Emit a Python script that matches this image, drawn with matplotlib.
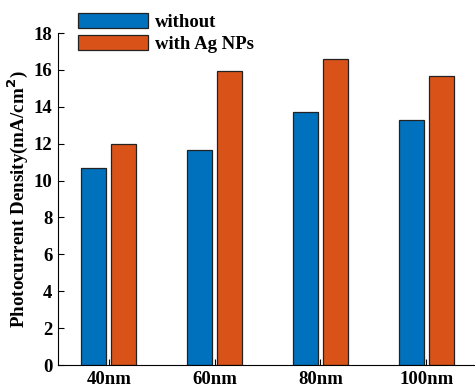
import matplotlib.pyplot as plt
import numpy as np

categories = ['40nm', '60nm', '80nm', '100nm']
without = [10.67, 11.66, 13.72, 13.27]
with_ag = [11.97, 15.96, 16.61, 15.67]
series_labels = ['without', 'with Ag NPs']

plt.rcParams['font.family'] = ['Liberation Serif', 'DejaVu Serif']
plt.rcParams['font.weight'] = 'bold'

fig = plt.figure(figsize=(4.75, 3.88), dpi=100)
ax = fig.add_axes([58 / 475, (388 - 365) / 388, 1 - 58 / 475, 332 / 388])

x = np.arange(1, len(categories) + 1)
width = 0.236
ax.bar(x - 0.142, without, width, color='#0072BD', edgecolor='#222222', linewidth=0.9,
       label=series_labels[0])
ax.bar(x + 0.142, with_ag, width, color='#D95319', edgecolor='#222222', linewidth=0.9,
       label=series_labels[1])

ax.set_xlim(0.52, 4.46)
ax.set_ylim(0, 18)
ax.set_yticks(np.arange(0, 19, 2))
ax.set_xticks(x, labels=categories)
ax.tick_params(direction='in', length=4, width=0.8, labelsize=13.5, pad=4)
for lab in ax.get_xticklabels() + ax.get_yticklabels():
    lab.set_fontweight('bold')
ax.spines['top'].set_visible(False)
ax.spines['right'].set_visible(False)
ax.set_ylabel('Photocurrent Density(mA/cm$^\\mathbf{2}$)', fontsize=13.7, fontweight='bold', labelpad=3)

leg = ax.legend(loc='upper left', bbox_to_anchor=(0.048, 1.061), frameon=False,
                fontsize=13.5, handlelength=3.73, handleheight=0.85, handletextpad=0.35,
                labelspacing=0.22, borderaxespad=0, borderpad=0)
for t in leg.get_texts():
    t.set_fontweight('bold')

fig.savefig('out.png', dpi=100)
